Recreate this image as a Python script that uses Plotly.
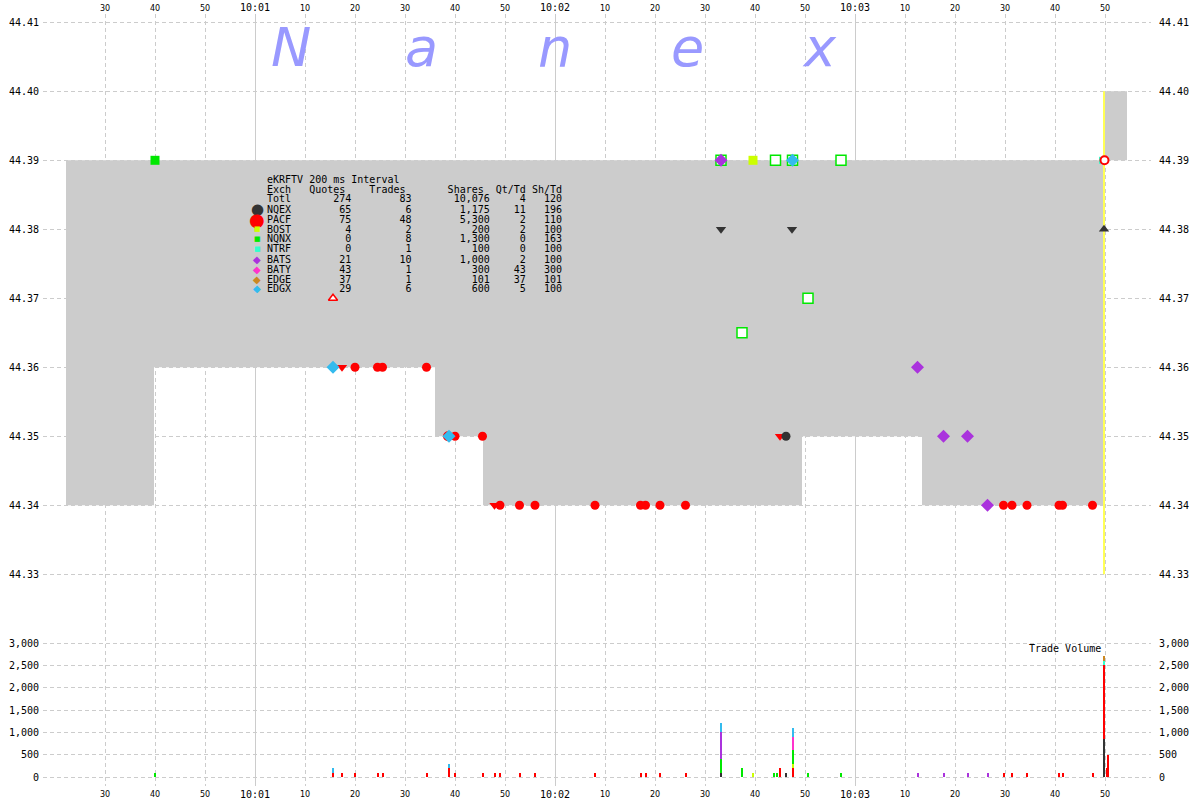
import plotly.graph_objects as go

# ---------------- data (time = seconds after 10:00:00) ----------------
# NBBO spread (step series)
nbbo_t   = [22.2, 39.8, 96.0, 105.6, 169.4, 193.4, 229.8, 234.4]
nbbo_bid = [44.34, 44.36, 44.35, 44.34, 44.35, 44.34, 44.39, 44.39]
nbbo_ask = [44.39, 44.39, 44.39, 44.39, 44.39, 44.39, 44.40, 44.40]

flash_t = [229.8, 229.8]
flash_p = [44.33, 44.40]

# trades / quotes on the price panel
pacf_t = [80.0, 84.5, 85.5, 94.3, 100.0, 105.5, 109.0, 112.9, 116.0, 128.0,
          137.1, 138.1, 141.0, 146.1, 209.7, 211.4, 214.4, 220.8, 221.5, 227.5]
pacf_p = [44.36, 44.36, 44.36, 44.36, 44.35, 44.35, 44.34, 44.34, 44.34, 44.34,
          44.34, 44.34, 44.34, 44.34, 44.34, 44.34, 44.34, 44.34, 44.34, 44.34]
pacf_half_t = [77.4, 107.9, 165.0]
pacf_half_p = [44.36, 44.34, 44.35]
pacf_open_t = [98.6, 229.9]
pacf_open_p = [44.35, 44.39]
pacf_dome_t = [75.6]
pacf_dome_p = [44.37]

nqex_t = [166.2]
nqex_p = [44.35]
nqex_low_t = [153.2, 167.4]
nqex_low_p = [44.38, 44.38]
nqex_high_t = [229.8]
nqex_high_p = [44.38]

nqnx_t = [40.0]
nqnx_p = [44.39]
nqnx_q_t = [153.2, 157.4, 164.1, 167.5, 170.6, 177.2]
nqnx_q_p = [44.39, 44.365, 44.39, 44.39, 44.37, 44.39]
bost_t = [159.6]
bost_p = [44.39]
ntrf_t = [229.5]
ntrf_p = [44.39]
bats_t = [153.2, 192.5, 197.7, 202.5, 206.5]
bats_p = [44.39, 44.36, 44.35, 44.35, 44.34]
edgx_t = [75.6, 98.8, 167.5]
edgx_p = [44.36, 44.35, 44.39]

# trade volume (shares) per exchange
vol_nqex_t = [153.2, 166.2, 229.8]
vol_nqex_v = [100, 100, 850]
vol_pacf_t = [75.6, 77.4, 80.0, 84.5, 85.5, 94.3, 98.8, 100.0, 105.5, 107.9,
              109.0, 112.9, 116.0, 128.0, 137.1, 138.1, 141.0, 146.1, 165.0, 167.5,
              209.7, 211.4, 214.4, 220.8, 221.5, 227.5, 229.8, 230.3, 230.6]
vol_pacf_v = [100, 100, 100, 100, 100, 100, 200, 100, 100, 100,
              100, 100, 100, 100, 100, 100, 100, 100, 200, 200,
              100, 100, 100, 100, 100, 100, 1650, 200, 500]
vol_bost_t = [159.6, 167.5]
vol_bost_v = [100, 100]
vol_nqnx_t = [40.0, 153.2, 157.4, 163.8, 164.4, 167.5, 170.6, 177.2]
vol_nqnx_v = [100, 300, 200, 100, 100, 300, 100, 100]
vol_ntrf_t = [229.8]
vol_ntrf_v = [100]
vol_bats_t = [153.2, 192.5, 197.7, 202.5, 206.5]
vol_bats_v = [600, 100, 100, 100, 100]
vol_baty_t = [167.5]
vol_baty_v = [300]
vol_edge_t = [229.8]
vol_edge_v = [101]
vol_edgx_t = [75.6, 98.8, 153.2, 167.5]
vol_edgx_v = [100, 100, 200, 200]

# summary table
tbl_exch   = ["Totl", "NQEX", "PACF", "BOST", "NQNX", "NTRF", "BATS", "BATY", "EDGE", "EDGX"]
tbl_quotes = ["274", "65", "75", "4", "0", "0", "21", "43", "37", "29"]
tbl_trades = ["83", "6", "48", "2", "8", "1", "10", "1", "1", "6"]
tbl_shares = ["10,076", "1,175", "5,300", "200", "1,300", "100", "1,000", "300", "101", "600"]
tbl_qttd   = ["4", "11", "2", "2", "0", "0", "2", "43", "37", "5"]
tbl_shtd   = ["120", "196", "110", "100", "163", "100", "100", "300", "101", "100"]

# ticks
sec_ticks = [30, 40, 50, 70, 80, 90, 100, 110, 130, 140, 150, 160, 170, 190, 200, 210, 220, 230]
sec_text = ["30", "40", "50", "10", "20", "30", "40", "50", "10", "20", "30", "40", "50",
            "10", "20", "30", "40", "50"]
min_ticks = [60, 120, 180]
min_text = ["10:01", "10:02", "10:03"]
price_ticks = [44.33, 44.34, 44.35, 44.36, 44.37, 44.38, 44.39, 44.40, 44.41]
price_text = ["44.33", "44.34", "44.35", "44.36", "44.37", "44.38", "44.39", "44.40", "44.41"]
vol_ticks = [0, 500, 1000, 1500, 2000, 2500, 3000]
vol_text = ["0", "500", "1,000", "1,500", "2,000", "2,500", "3,000"]

# ---------------- styling ----------------
W, H = 1200, 800
L, R, T, B = 43, 1151, 14, 786
X_RANGE = [17.6, 239.2]
PRICE_RANGE = [44.299319, 44.411203]
VOL_RANGE = [-201.5, 17082]

C = dict(NQEX="#333333", PACF="#ff0000", BOST="#ccff00", NQNX="#00e800",
         NTRF="#33ffcc", BATS="#aa33dd", BATY="#ff33cc", EDGE="#cc8822", EDGX="#33bbee")
GRID = "#cccccc"
MONO = "DejaVu Sans Mono"


def px_x(px):
    return (px - L) / (R - L)


def px_y(py):
    return 1 - (py - T) / (B - T)


fig = go.Figure()

# spread area
fig.add_trace(go.Scatter(x=nbbo_t, y=nbbo_ask, mode="lines", line=dict(width=0, shape="hv"),
                         hoverinfo="skip", showlegend=False))
fig.add_trace(go.Scatter(x=nbbo_t, y=nbbo_bid, mode="lines", line=dict(width=0, shape="hv"),
                         fill="tonexty", fillcolor="#cccccc", hoverinfo="skip", showlegend=False))
fig.add_trace(go.Scatter(x=flash_t, y=flash_p, mode="lines", line=dict(color="#ffff55", width=2),
                         hoverinfo="skip", showlegend=False))


def pts(x, y, symbol, color, size, line_color=None, line_width=0):
    fig.add_trace(go.Scatter(
        x=x, y=y, mode="markers", showlegend=False, hoverinfo="skip",
        marker=dict(symbol=symbol, color=color, size=size,
                    line=dict(color=line_color or color, width=line_width))))


pts(nqnx_q_t, nqnx_q_p, "square", "white", 10, C["NQNX"], 1.5)
pts(nqnx_t, nqnx_p, "square", C["NQNX"], 9)
pts(bost_t, bost_p, "square", C["BOST"], 9)
pts(ntrf_t, ntrf_p, "square", C["NTRF"], 7)
pts(nqex_low_t, nqex_low_p, "triangle-down", C["NQEX"], 9)
pts(nqex_high_t, nqex_high_p, "triangle-up", C["NQEX"], 9)
pts(pacf_half_t, pacf_half_p, "triangle-down", C["PACF"], 9)
pts(pacf_dome_t, pacf_dome_p, "triangle-up", "white", 8, C["PACF"], 1.5)
pts(pacf_t, pacf_p, "circle", C["PACF"], 9)
pts(pacf_open_t, pacf_open_p, "circle", "white", 8, C["PACF"], 2)
pts(nqex_t, nqex_p, "circle", C["NQEX"], 9)
pts(bats_t, bats_p, "diamond", C["BATS"], 10)
pts(edgx_t, edgx_p, "diamond", C["EDGX"], 10)

# volume bars (stacked)
for name, xs, vs in [("NQEX", vol_nqex_t, vol_nqex_v), ("PACF", vol_pacf_t, vol_pacf_v),
                     ("BOST", vol_bost_t, vol_bost_v), ("NQNX", vol_nqnx_t, vol_nqnx_v),
                     ("NTRF", vol_ntrf_t, vol_ntrf_v), ("BATS", vol_bats_t, vol_bats_v),
                     ("BATY", vol_baty_t, vol_baty_v), ("EDGE", vol_edge_t, vol_edge_v),
                     ("EDGX", vol_edgx_t, vol_edgx_v)]:
    fig.add_trace(go.Bar(x=xs, y=vs, width=0.4, marker=dict(color=C[name], line=dict(width=0)),
                         xaxis="x", yaxis="y2", showlegend=False, hoverinfo="skip"))

# dummy traces to activate extra axes
for xa, ya in [("x2", "y"), ("x3", "y"), ("x4", "y"), ("x", "y3"), ("x", "y4")]:
    fig.add_trace(go.Scatter(x=[None], y=[None], xaxis=xa, yaxis=ya, mode="markers",
                             showlegend=False, hoverinfo="skip"))

sec_font = dict(family="DejaVu Sans", size=8, color="#000000")
min_font = dict(family=MONO, size=10, color="#000000")
y_font = dict(family=MONO, size=10, color="#000000")

common_x = dict(range=X_RANGE, showline=False, zeroline=False, ticks="", automargin=False,
                fixedrange=True)
fig.update_layout(
    width=W, height=H, template="none",
    paper_bgcolor="white", plot_bgcolor="white",
    margin=dict(l=L, r=W - R, t=T, b=H - B, pad=0),
    barmode="stack", bargap=0, showlegend=False,
    xaxis=dict(**common_x, tickmode="array", tickvals=sec_ticks, ticktext=sec_text,
               tickfont=sec_font, showgrid=True, gridcolor=GRID, griddash="4px,3px",
               gridwidth=1, side="bottom", anchor="y", ticklabelstandoff=2),
    xaxis2=dict(**common_x, tickmode="array", tickvals=sec_ticks, ticktext=sec_text,
                tickfont=sec_font, showgrid=False, side="top", overlaying="x", anchor="y",
                ticklabelstandoff=0),
    xaxis3=dict(**common_x, tickmode="array", tickvals=min_ticks, ticktext=min_text,
                tickfont=min_font, showgrid=True, gridcolor=GRID, gridwidth=1,
                side="bottom", overlaying="x", anchor="y", ticklabelstandoff=1),
    xaxis4=dict(**common_x, tickmode="array", tickvals=min_ticks, ticktext=min_text,
                tickfont=min_font, showgrid=False, side="top", overlaying="x", anchor="y",
                ticklabelstandoff=0),
    yaxis=dict(range=PRICE_RANGE, tickmode="array", tickvals=price_ticks, ticktext=price_text,
               tickfont=y_font, showgrid=True, gridcolor=GRID, griddash="4px,3px", gridwidth=1,
               zeroline=False, showline=False, ticks="", side="left", automargin=False,
               ticklabelstandoff=3),
    yaxis3=dict(range=PRICE_RANGE, tickmode="array", tickvals=price_ticks, ticktext=price_text,
                tickfont=y_font, showgrid=False, zeroline=False, showline=False, ticks="",
                side="right", overlaying="y", automargin=False, ticklabelstandoff=7),
    yaxis2=dict(range=VOL_RANGE, tickmode="array", tickvals=vol_ticks, ticktext=vol_text,
                tickfont=y_font, showgrid=True, gridcolor=GRID, griddash="4px,3px", gridwidth=1,
                zeroline=False, showline=False, ticks="", side="left", overlaying="y",
                automargin=False, ticklabelstandoff=3),
    yaxis4=dict(range=VOL_RANGE, tickmode="array", tickvals=vol_ticks, ticktext=vol_text,
                tickfont=y_font, showgrid=False, zeroline=False, showline=False, ticks="",
                side="right", overlaying="y", automargin=False, ticklabelstandoff=7),
)

ann = []
# watermark
for letter, cx in zip(["N", "a", "n", "e", "x"], [291, 421, 555, 688, 819]):
    ann.append(dict(text=letter, x=px_x(cx), y=px_y(47), xref="paper", yref="paper",
                    xanchor="center", yanchor="middle", showarrow=False,
                    font=dict(family="DejaVu Sans", size=54, color="#9999ff", style="italic")))

# table
rows = ["eKRFTV 200 ms Interval",
        f"{'Exch':<4}{'Quotes':>9}{'Trades':>10}{'Shares':>13}{'Qt/Td':>7}{'Sh/Td':>6}"]
for i in range(len(tbl_exch)):
    rows.append(f"{tbl_exch[i]:<4}{tbl_quotes[i]:>10}{tbl_trades[i]:>10}{tbl_shares[i]:>13}"
                f"{tbl_qttd[i]:>6}{tbl_shtd[i]:>6}")
for k, row in enumerate(rows):
    ann.append(dict(text=row, x=px_x(265), y=px_y(179 + 10 * k), xref="paper", yref="paper",
                    xanchor="left", yanchor="middle", showarrow=False,
                    font=dict(family=MONO, size=10, color="#000000")))

icons = {"NQEX": ("●", 15), "PACF": ("●", 18), "BOST": ("■", 7), "NQNX": ("■", 7),
         "NTRF": ("■", 7), "BATS": ("◆", 10), "BATY": ("◆", 10), "EDGE": ("◆", 10),
         "EDGX": ("◆", 10)}
for k, name in enumerate(tbl_exch[1:]):
    g, s = icons[name]
    ann.append(dict(text=g, x=px_x(257), y=px_y(209 + 10 * k), xref="paper", yref="paper",
                    xanchor="center", yanchor="middle", showarrow=False,
                    font=dict(family="DejaVu Sans", size=s, color=C[name])))

ann.append(dict(text="Trade Volume", x=px_x(1103), y=px_y(648), xref="paper", yref="paper",
                xanchor="right", yanchor="middle", showarrow=False,
                font=dict(family=MONO, size=10, color="#000000")))
fig.update_layout(annotations=ann)

fig.write_html("out.html", config={"displayModeBar": False, "staticPlot": True},
               post_script="document.body.style.margin='0';document.body.style.overflow='hidden';")
